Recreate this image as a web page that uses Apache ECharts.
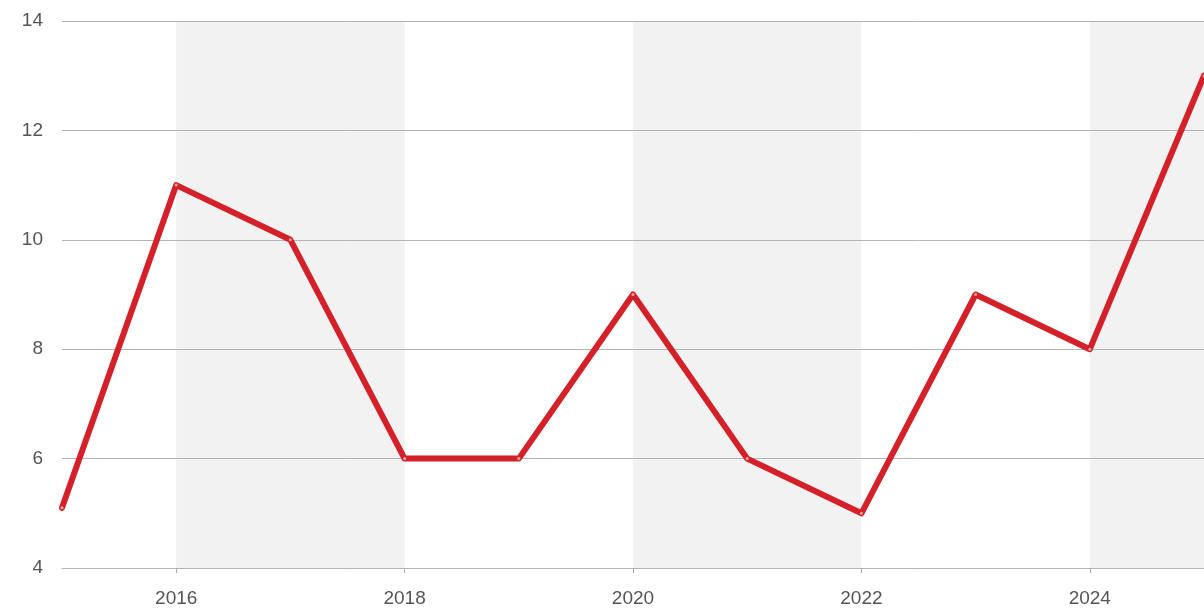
<!DOCTYPE html>
<html><head><meta charset="utf-8">
<script src="https://cdn.jsdelivr.net/npm/echarts@6/dist/echarts.min.js"></script>
<style>html,body{margin:0;padding:0;background:#fff}#c{width:1204px;height:610px}</style>
</head><body><div id="c"></div>
<script>
const years = [2015, 2016, 2017, 2018, 2019, 2020, 2021, 2022, 2023, 2024, 2025];
const values = [5.1, 11, 10, 6, 6, 9, 6, 5, 9, 8, 13];
const yTicks = [4, 6, 8, 10, 12, 14];

const chart = echarts.init(document.getElementById('c'), null, {renderer: 'canvas'});
chart.setOption({
  animation: false,
  backgroundColor: '#fff',
  grid: {left: 62, right: 0, top: 21, bottom: 42, containLabel: false},
  xAxis: {
    type: 'value', min: years[0], max: years[years.length - 1], splitNumber: 5, z: 0,
    axisLine: {show: true, lineStyle: {color: '#aaa', width: 1}},
    axisTick: {show: true, length: 5, lineStyle: {color: '#aaa'}},
    axisLabel: {showMinLabel: false, showMaxLabel: false, color: '#555', fontSize: 19, margin: 21,
      fontFamily: 'Liberation Sans, Arial, sans-serif', formatter: v => String(v)},
    splitLine: {show: false},
    splitArea: {show: true, areaStyle: {color: ['rgba(255,255,255,0)', '#f2f2f2']}}
  },
  yAxis: {
    type: 'value', min: yTicks[0], max: yTicks[yTicks.length - 1], interval: 2, z: 2,
    axisLine: {show: false}, axisTick: {show: false},
    axisLabel: {color: '#555', fontSize: 19, margin: 19, fontFamily: 'Liberation Sans, Arial, sans-serif'},
    splitLine: {show: true, lineStyle: {color: '#b4b4b4', width: 1}}
  },
  series: [{
    type: 'line',
    data: years.map((y, i) => [y, values[i]]),
    lineStyle: {color: '#d42129', width: 6, cap: 'round', join: 'round'},
    itemStyle: {color: '#f4a6a6', borderWidth: 0},
    symbol: 'circle', symbolSize: 3, showSymbol: true,
    clip: true, z: 3
  }]
});
</script></body></html>
